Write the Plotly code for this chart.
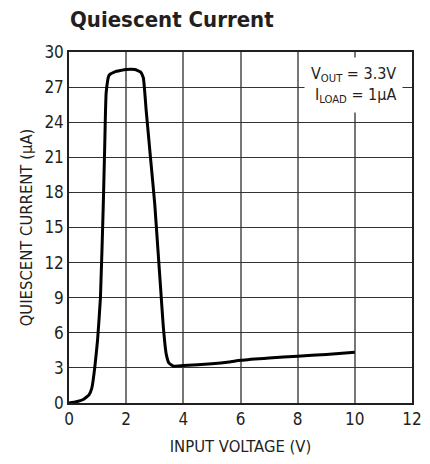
import plotly.graph_objects as go

vin = [0, 0.25, 0.5, 0.7, 0.8, 0.9, 1.0, 1.1, 1.2, 1.25, 1.3, 1.4, 1.6, 2.0, 2.3, 2.5, 2.6, 2.7,
       2.85, 3.0, 3.1, 3.2, 3.3, 3.4, 3.5, 3.65, 4.0, 5.0, 5.6, 6.0, 7.0, 8.0, 9.0, 10.0]
iq = [0, 0.1, 0.3, 0.7, 1.3, 3.0, 5.4, 9.0, 17.0, 22.0, 26.5, 28.0, 28.3, 28.5, 28.5, 28.3, 27.8, 25.0,
      21.0, 17.0, 13.5, 10.0, 6.5, 4.2, 3.4, 3.15, 3.2, 3.35, 3.5, 3.65, 3.85, 4.0, 4.15, 4.33]

x_ticks = [0, 2, 4, 6, 8, 10, 12]
y_ticks = [0, 3, 6, 9, 12, 15, 18, 21, 24, 27, 30]

font = "DejaVu Sans Condensed"

fig = go.Figure()
fig.add_trace(go.Scatter(x=vin, y=iq, mode="lines",
                         line=dict(color="black", width=3, shape="spline", smoothing=0.4),
                         showlegend=False))

fig.update_layout(
    width=430, height=464,
    margin=dict(l=69, r=8, t=52, b=61),
    paper_bgcolor="white", plot_bgcolor="white",
    font=dict(family=font, size=16, color="#231f20"),
    title=dict(text="<b>Quiescent Current</b>", x=70/430, xanchor="left",
               y=1 - 19/464, yanchor="middle",
               font=dict(family=font, size=22, color="#231f20")),
    xaxis=dict(range=[0, 12], tickvals=x_ticks, showgrid=True, gridcolor="#777777", gridwidth=1.5,
               zeroline=False, showline=True, linecolor="#231f20", linewidth=1.5, mirror=True,
               ticks="", title=dict(text="INPUT VOLTAGE (V)", font=dict(size=16.5), standoff=12),
               tickfont=dict(size=17)),
    yaxis=dict(range=[0, 30], tickvals=y_ticks, showgrid=True, gridcolor="#333333", gridwidth=1.2,
               zeroline=False, showline=True, linecolor="#231f20", linewidth=1.5, mirror=True,
               ticks="", title=dict(text="QUIESCENT CURRENT (μA)", font=dict(size=16.5), standoff=8),
               tickfont=dict(size=17)),
    annotations=[dict(text="V<sub>OUT</sub> = 3.3V<br>I<sub>LOAD</sub> = 1μA", xref="x", yref="y",
                      x=11.69, y=27.2, xanchor="right", yanchor="middle", align="right",
                      showarrow=False, bgcolor="white", font=dict(size=16, color="#231f20"),
                      borderpad=6)],
)

fig.write_html("out.html")
